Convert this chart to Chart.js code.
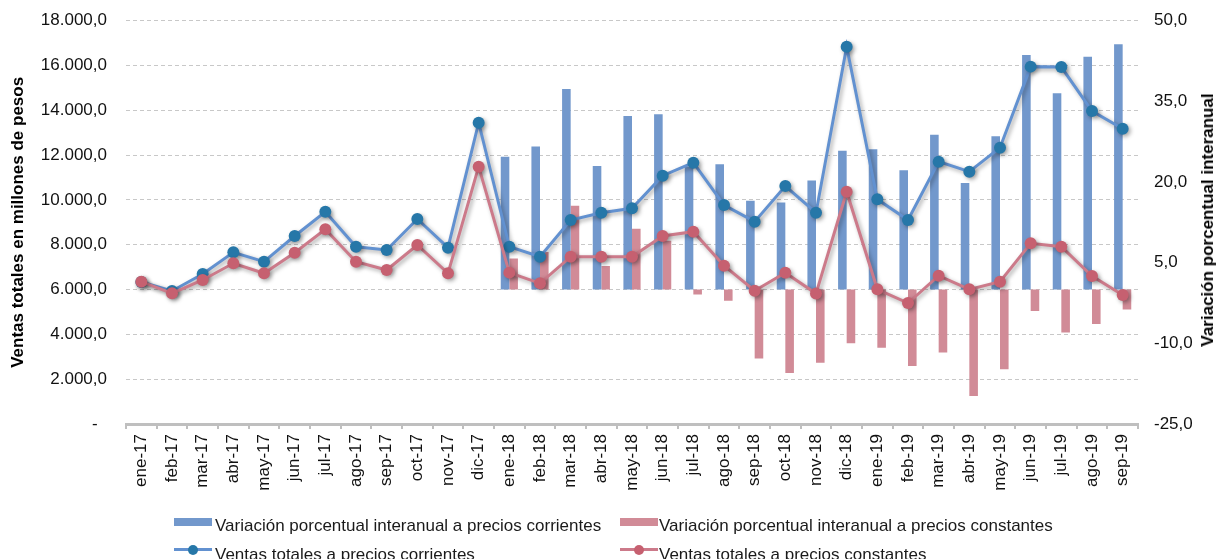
<!DOCTYPE html>
<html>
<head>
<meta charset="utf-8">
<script src="https://cdn.jsdelivr.net/npm/chart.js@4/dist/chart.umd.min.js"></script>
<style>
  body { margin: 0; background: #fff; }
  #wrap { position: relative; width: 1216px; height: 559px; overflow: hidden; font-family: 'Liberation Sans', Arial, sans-serif; }
  #c { position: absolute; left: 0; top: 0; }
  .leg { position: absolute; font-size: 17px; line-height: 17px; color: #1a1a1a; white-space: nowrap; }
  .box { position: absolute; width: 38px; height: 8px; }
  .ln { position: absolute; width: 38px; height: 3px; }
  .dot { position: absolute; width: 10px; height: 10px; border-radius: 50%; left: 14px; top: -3.5px; }
  #rtitle { position: absolute; left: 1208px; top: 220px; transform: translate(-50%, -50%) rotate(-90deg);
            font-weight: bold; font-size: 17px; white-space: nowrap; color: #000; }
</style>
</head>
<body>
<div id="wrap">
  <canvas id="c" width="1216" height="559"></canvas>
  <div id="rtitle">Variación porcentual interanual</div>

  <div class="box" style="left:174px; top:518px; background:#7298CC;"></div>
  <div class="leg" style="left:215px; top:517px;">Variación porcentual interanual a precios corrientes</div>
  <div class="box" style="left:620px; top:518px; background:#D18B97;"></div>
  <div class="leg" style="left:659px; top:517px;">Variación porcentual interanual a precios constantes</div>

  <div class="ln" style="left:174px; top:548px; background:#6291D0;"><div class="dot" style="background:#2677A8;"></div></div>
  <div class="leg" style="left:215px; top:546px;">Ventas totales a precios corrientes</div>
  <div class="ln" style="left:620px; top:548px; background:#CC7A8A;"><div class="dot" style="background:#C66070;"></div></div>
  <div class="leg" style="left:659px; top:546px;">Ventas totales a precios constantes</div>
</div>
<script>
// meses
const categorias = [
    'ene-17', 'feb-17', 'mar-17', 'abr-17', 'may-17', 'jun-17', 'jul-17', 'ago-17', 'sep-17', 'oct-17', 'nov-17', 'dic-17',
    'ene-18', 'feb-18', 'mar-18', 'abr-18', 'may-18', 'jun-18', 'jul-18', 'ago-18', 'sep-18', 'oct-18', 'nov-18', 'dic-18',
    'ene-19', 'feb-19', 'mar-19', 'abr-19', 'may-19', 'jun-19', 'jul-19', 'ago-19', 'sep-19'
];

// variación porcentual interanual (eje derecho)
const varCorrientes = [
    null, null, null, null, null, null, null, null, null, null, null, null,
    24.7, 26.6, 37.3, 23.0, 32.3, 32.6, 22.9, 23.3, 16.5, 16.2, 20.3, 25.8,
    26.1, 22.2, 28.8, 19.8, 28.5, 43.6, 36.5, 43.3, 45.6
];
const varConstantes = [
    null, null, null, null, null, null, null, null, null, null, null, null,
    5.8, 7.0, 15.6, 4.4, 11.3, 9.1, -0.9, -2.1, -12.8, -15.5, -13.6, -10.0,
    -10.8, -14.2, -11.7, -19.8, -14.8, -4.0, -8.0, -6.4, -3.7
];

// ventas totales en millones de pesos (eje izquierdo)
const ventasCorrientes = [
    6340, 5936, 6694, 7663, 7244, 8390, 9475, 7913, 7766, 9149, 7868, 13447,
    7913, 7467, 9105, 9432, 9626, 11082, 11663, 9774, 9031, 10622, 9432, 16839,
    10028, 9105, 11708, 11262, 12333, 15950, 15930, 13969, 13179
];
const ventasConstantes = [
    6351, 5833, 6427, 7172, 6726, 7645, 8690, 7244, 6873, 7989, 6726, 11484,
    6756, 6280, 7467, 7467, 7467, 8390, 8583, 7065, 5949, 6753, 5820, 10368,
    6012, 5400, 6620, 6010, 6352, 8064, 7913, 6605, 5757
];

const ticksIzq = { min: 0, max: 18000, paso: 2000 };
const ticksDer = { min: -25, max: 50, paso: 15 };

function miles(v) {
    if (v === 0) return '-  ';
    let p = v.toFixed(1).split('.');
    return p[0].replace(/\B(?=(\d{3})+(?!\d))/g, '.') + ',' + p[1];
}

Chart.defaults.font.family = "'Liberation Sans', Arial, sans-serif";
Chart.defaults.font.size = 17;
Chart.defaults.color = '#1a1a1a';

const sombra = {
    id: 'sombra',
    beforeDatasetDraw(chart, args) {
        if (chart.data.datasets[args.index].type !== 'line') return;
        const ctx = chart.ctx;
        ctx.save();
        ctx.shadowColor = 'rgba(0,0,0,0.35)';
        ctx.shadowBlur = 4;
        ctx.shadowOffsetX = 2;
        ctx.shadowOffsetY = 2;
    },
    afterDatasetDraw(chart, args) {
        if (chart.data.datasets[args.index].type !== 'line') return;
        chart.ctx.restore();
    }
};

const ctx = document.getElementById('c').getContext('2d');
new Chart(ctx, {
    type: 'bar',
    data: {
        labels: categorias,
        datasets: [
            {
                type: 'bar',
                label: 'Variación porcentual interanual a precios corrientes',
                data: varCorrientes,
                yAxisID: 'y2',
                backgroundColor: '#7298CC',
                categoryPercentage: 0.56,
                barPercentage: 1.0,
                order: 2
            },
            {
                type: 'bar',
                label: 'Variación porcentual interanual a precios constantes',
                data: varConstantes,
                yAxisID: 'y2',
                backgroundColor: '#D18B97',
                categoryPercentage: 0.56,
                barPercentage: 1.0,
                order: 2
            },
            {
                type: 'line',
                label: 'Ventas totales a precios corrientes',
                data: ventasCorrientes,
                yAxisID: 'y',
                borderColor: '#6291D0',
                borderWidth: 3,
                tension: 0,
                pointRadius: 6,
                pointBackgroundColor: '#2677A8',
                pointBorderColor: '#2677A8',
                pointBorderWidth: 0,
                order: 1
            },
            {
                type: 'line',
                label: 'Ventas totales a precios constantes',
                data: ventasConstantes,
                yAxisID: 'y',
                borderColor: '#CC7A8A',
                borderWidth: 3,
                tension: 0,
                pointRadius: 6,
                pointBackgroundColor: '#C66070',
                pointBorderColor: '#C66070',
                pointBorderWidth: 0,
                order: 0
            }
        ]
    },
    options: {
        responsive: false,
        devicePixelRatio: 1,
        animation: false,
        layout: { padding: { left: 0, right: 0, top: 20.7, bottom: 55 } },
        plugins: {
            legend: { display: false },
            tooltip: { enabled: false }
        },
        scales: {
            x: {
                offset: true,
                grid: {
                    drawOnChartArea: false,
                    drawTicks: true,
                    tickLength: 5,
                    color: '#BFBFBF',
                    lineWidth: 2,
                    offset: true
                },
                border: { display: true, color: '#BFBFBF', width: 3 },
                ticks: {
                    autoSkip: false,
                    minRotation: 90,
                    maxRotation: 90,
                    padding: 5,
                    color: '#111'
                },
                afterFit: s => { s.height = 80; }
            },
            y: {
                position: 'left',
                min: ticksIzq.min,
                max: ticksIzq.max,
                grid: {
                    color: '#C8C8C8',
                    lineWidth: 1,
                    drawTicks: true,
                    tickLength: 19,
                    tickColor: 'rgba(0,0,0,0)'
                },
                border: { display: false, dash: [4, 3] },
                ticks: {
                    stepSize: ticksIzq.paso,
                    padding: 0,
                    color: '#111',
                    callback: v => miles(v)
                },
                title: {
                    display: true,
                    text: 'Ventas totales en millones de pesos',
                    font: { weight: 'bold', size: 17, lineHeight: 1 },
                    color: '#000',
                    padding: { top: 9.5, bottom: 0 }
                },
                afterFit: s => { s.width = 126; }
            },
            y2: {
                position: 'right',
                min: ticksDer.min,
                max: ticksDer.max,
                grid: { display: false, drawTicks: true, tickLength: 16 },
                border: { display: false },
                ticks: {
                    stepSize: ticksDer.paso,
                    padding: 0,
                    color: '#111',
                    callback: v => v.toFixed(1).replace('.', ',')
                },
                afterFit: s => { s.width = 78; }
            }
        }
    },
    plugins: [sombra]
});
</script>
</body>
</html>
